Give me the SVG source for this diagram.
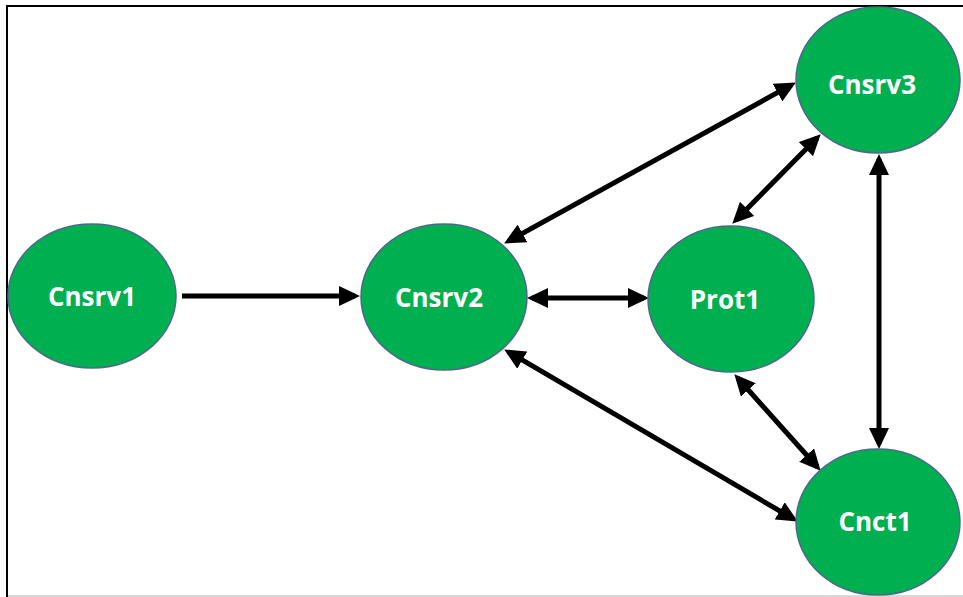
<svg xmlns="http://www.w3.org/2000/svg" width="963" height="597" viewBox="0 0 963 597">
<style>
.node ellipse{fill:#00B050;stroke:#4A6A8C;stroke-width:1.5}
.node text{fill:#fff;font-family:"Open Sans","Liberation Sans",sans-serif;font-weight:700;font-size:26px;text-anchor:middle}
.conn line{stroke:#000;stroke-width:5;fill:none}
.uni{marker-end:url(#ah)}
.bi{marker-start:url(#ah);marker-end:url(#ah)}
</style>
<defs>
<marker id="ah" markerUnits="userSpaceOnUse" markerWidth="22" markerHeight="20" refX="16" refY="10" orient="auto-start-reverse" viewBox="0 0 22 20">
<path d="M0,0 L21,10 L0,20 Z" fill="#000"/>
</marker>
</defs>
<rect x="0" y="0" width="963" height="597" fill="#fff"/>
<line x1="7" y1="6" x2="963" y2="6" stroke="#000" stroke-width="2"/>
<line x1="7" y1="5" x2="7" y2="597" stroke="#000" stroke-width="2"/>
<line x1="8" y1="596" x2="963" y2="596" stroke="#ccc" stroke-width="1.5"/>
<g id="connectors" class="conn">
<line class="uni" x1="182" y1="296" x2="355" y2="296"/>
<line class="bi" x1="508.5" y1="241.1" x2="791.5" y2="84.9"/>
<line class="bi" x1="735.8" y1="220.2" x2="817.2" y2="137.8"/>
<line class="bi" x1="532" y1="298" x2="644" y2="298"/>
<line class="bi" x1="508.5" y1="352" x2="793.5" y2="519"/>
<line class="bi" x1="737.7" y1="378" x2="817.3" y2="467"/>
<line class="bi" x1="879" y1="159" x2="879" y2="444"/>
</g>
<g id="Cnsrv1" class="node"><ellipse cx="92" cy="296" rx="84" ry="72"/><text x="92" y="306">Cnsrv1</text></g>
<g id="Cnsrv2" class="node"><ellipse cx="444" cy="297" rx="83" ry="73"/><text x="439" y="307">Cnsrv2</text></g>
<g id="Prot1" class="node"><ellipse cx="731" cy="299" rx="83" ry="73"/><text x="725" y="309">Prot1</text></g>
<g id="Cnsrv3" class="node"><ellipse cx="878" cy="80" rx="82" ry="73"/><text x="872" y="94">Cnsrv3</text></g>
<g id="Cnct1" class="node"><ellipse cx="878" cy="522" rx="82" ry="73"/><text x="875" y="531">Cnct1</text></g>
</svg>
